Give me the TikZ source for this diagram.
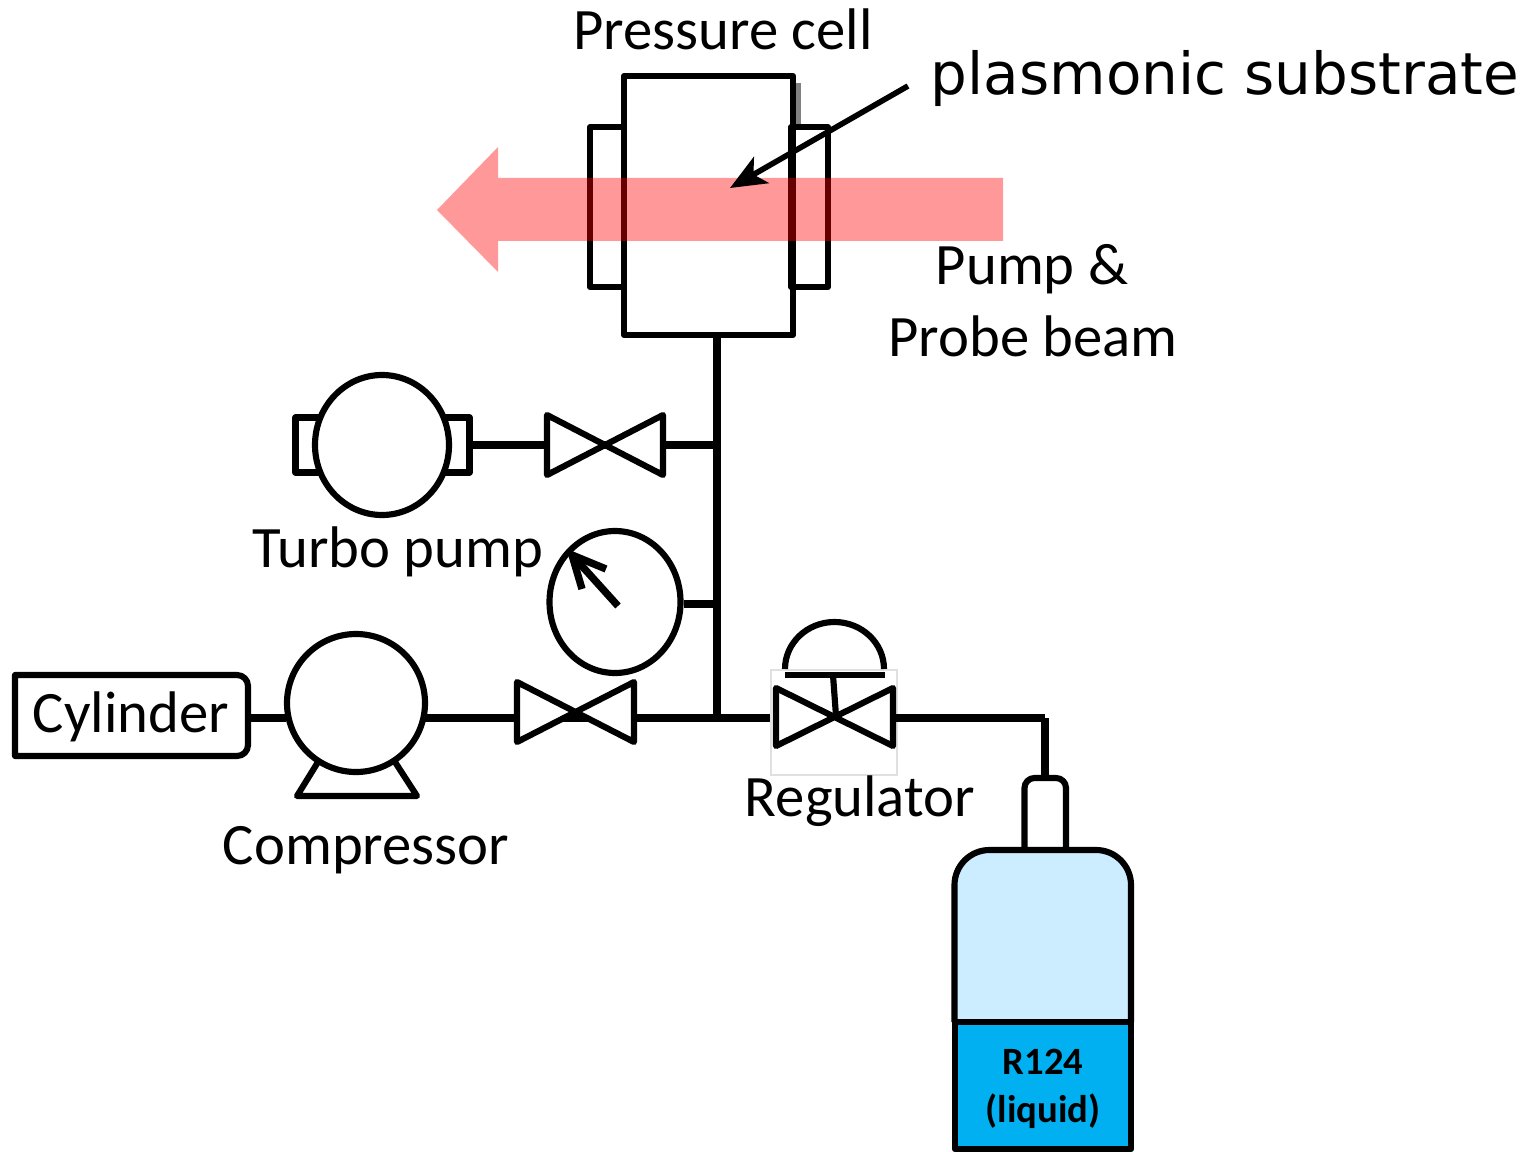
\documentclass[tikz,border=0pt]{standalone}
\usepackage{fontspec}
\setmainfont{Carlito}
\newfontfamily\verdfont{DejaVu Sans}
\usepackage{xcolor}
\usetikzlibrary{arrows.meta,positioning,shapes.geometric}
\definecolor{beamred}{HTML}{FF0000}
\definecolor{gasblue}{HTML}{CCECFF}
\definecolor{liquidblue}{HTML}{00B0F0}
\tikzset{
  part/.style={draw=black,line width=1.75pt,line join=round,fill=white,inner sep=0pt},
  pipe/.style={draw=black,line width=2.1pt},
  tag/.style={font=\fontsize{16.7}{20}\selectfont,inner sep=0pt,anchor=base},
}
\begin{document}
\begin{tikzpicture}
\useasboundingbox (0,0) rectangle (15.33,11.51);
\coordinate (teeT) at (7.17,7.06);
\coordinate (teeG) at (7.17,5.47);
\coordinate (teeC) at (7.17,4.33);
\coordinate (elbow) at (10.45,4.33);
% pressure cell
\fill[black!50] (7.95,10.68) rectangle (8.01,10.24);
\node[part,minimum width=1.69cm,minimum height=2.59cm] (cell) at (7.085,9.455) {};
\node[part,fill=none,minimum width=0.34cm,minimum height=1.60cm] (winL) at (6.07,9.44) {};
\node[part,fill=none,minimum width=0.37cm,minimum height=1.60cm] (winR) at (8.095,9.44) {};
\fill[beamred,fill opacity=0.4] (10.03,9.73) -- (4.98,9.73) -- (4.98,10.04) -- (4.37,9.41) -- (4.98,8.79) -- (4.98,9.10) -- (10.03,9.10) -- cycle;
\coordinate (subst) at (7.30,9.63);
\coordinate (substT) at (9.08,10.65);
\draw[line width=1.6pt,-{Stealth[length=0.36cm,width=0.30cm,inset=0.09cm]}] (substT) -- (subst);
\node[tag] (celltag) at (7.23,11.01) {Pressure cell};
\node[font=\verdfont\fontsize{16.5}{18}\selectfont,inner sep=0pt,anchor=base] (substag) at (12.25,10.56) {plasmonic substrate};
\node[tag] (pumptag) at (10.32,8.66) {Pump \&};
\node[tag] (probetag) at (10.33,7.94) {Probe beam};
% main pipe
\draw[pipe] (teeT |- cell.south) -- (teeC);
% turbo pump branch
\node[part,minimum width=1.74cm,minimum height=0.55cm] (turbobox) at (3.825,7.06) {};
\draw[pipe] (turbobox.east) -- (teeT);
\node[part,ellipse,minimum width=1.34cm,minimum height=1.40cm] (turbo) at (3.82,7.06) {};
\draw[part] (5.47,7.36) -- (6.63,6.76) -- (6.63,7.36) -- (5.47,6.76) -- cycle;
\node[tag] (turbotag) at (3.98,5.84) {Turbo pump};
% gauge
\node[part,ellipse,minimum width=1.31cm,minimum height=1.42cm] (gauge) at (6.15,5.49) {};
\draw[pipe] (gauge.east |- teeG) -- (teeG);
\draw[line width=2.1pt,line join=round] (6.18,5.45) -- (5.72,5.96);
\draw[line width=2.1pt,line join=round] (5.82,5.62) -- (5.72,5.96) -- (6.06,5.82);
% cylinder and compressor line
\draw[part] (3.18,3.89) -- (2.97,3.55) -- (4.17,3.55) -- (3.95,3.89);
\node[part,ellipse,minimum width=1.38cm,minimum height=1.38cm] (comp) at (3.56,4.48) {};
\coordinate (compL) at (2.86,4.33);
\coordinate (compR) at (4.24,4.33);
\draw[pipe] (compR) -- (teeC);
\draw[pipe] (2.48,4.33) -- (compL);
\draw[part] (0.15,4.76) -- (2.37,4.76) arc[start angle=90,end angle=0,radius=0.11] -- (2.48,4.06) arc[start angle=0,end angle=-90,radius=0.11] -- (0.15,3.95) -- cycle;
\node[tag] (cyl) at (1.31,4.19) {Cylinder};
\draw[part] (5.17,4.69) -- (6.34,4.09) -- (6.34,4.69) -- (5.17,4.09) -- cycle;
\node[tag] (comptag) at (3.66,2.87) {Compressor};
% regulator
\node[draw=black!12,line width=0.4pt,fill=white,inner sep=0pt,minimum width=1.26cm,minimum height=1.05cm] (regbox) at (8.34,4.285) {};
\draw[pipe] (teeC) -- (regbox.west |- teeC);
\draw[pipe] (8.93,4.33) -- (elbow);
\draw[pipe] (elbow) -- (10.45,3.74);
\draw[part] (7.76,4.63) -- (8.93,4.05) -- (8.93,4.63) -- (7.76,4.05) -- cycle;
\draw[line width=1.75pt] (7.85,4.82) arc[start angle=180,end angle=0,x radius=0.495,y radius=0.47];
\draw[line width=1.75pt] (7.85,4.76) -- (8.85,4.76);
\draw[line width=1.75pt] (8.33,4.76) -- (8.36,4.35);
\node[tag] (regtag) at (8.60,3.35) {Regulator};
% bottle
\draw[part,fill=white] (10.245,3.01) -- (10.245,3.63) arc[start angle=180,end angle=90,radius=0.10] -- (10.56,3.73) arc[start angle=90,end angle=0,radius=0.10] -- (10.66,3.01);
\draw[part,fill=gasblue] (9.545,1.29) -- (9.545,2.66) arc[start angle=180,end angle=90,radius=0.35] -- (10.96,3.01) arc[start angle=90,end angle=0,radius=0.35] -- (11.31,1.29);
\node[part,fill=liquidblue,minimum width=1.765cm,minimum height=1.27cm] (liquid) at (10.43,0.655) {};
\node[font=\bfseries\fontsize{11}{13.6}\selectfont,align=center,inner sep=0pt] (r124) at (10.43,0.62) {R124\\(liquid)};
\end{tikzpicture}
\end{document}
